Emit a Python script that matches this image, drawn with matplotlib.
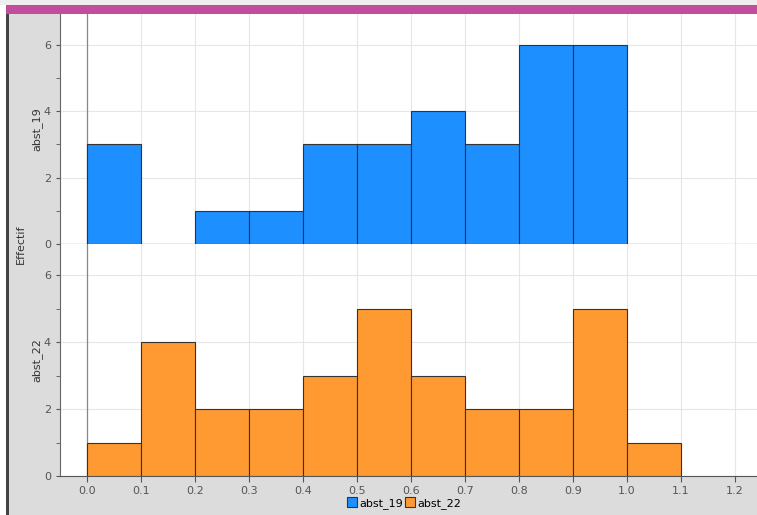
import matplotlib.pyplot as plt
from matplotlib.patches import Rectangle

# Data
bin_edges = [0.0, 0.1, 0.2, 0.3, 0.4, 0.5, 0.6, 0.7, 0.8, 0.9, 1.0, 1.1]
abst_19 = [3, 0, 1, 1, 3, 3, 4, 3, 6, 6, 0]
abst_22 = [1, 4, 2, 2, 3, 5, 3, 2, 2, 5, 1]
x_ticks = [0.0, 0.1, 0.2, 0.3, 0.4, 0.5, 0.6, 0.7, 0.8, 0.9, 1.0, 1.1, 1.2]

W, H = 757, 515
fig = plt.figure(figsize=(W / 100, H / 100), dpi=100)
fig.patch.set_facecolor("#dcdcdc")

# frame decorations (top band, left border)
fig.patches.append(Rectangle((0, 1 - 5 / H), 1, 5 / H, transform=fig.transFigure,
                             facecolor="#eeeeee", edgecolor="none"))
fig.patches.append(Rectangle((0, 1 - 14 / H), 1, 9 / H, transform=fig.transFigure,
                             facecolor="#c04e9c", edgecolor="none"))
fig.patches.append(Rectangle((0, 0), 6 / W, 1 - 5 / H, transform=fig.transFigure,
                             facecolor="white", edgecolor="none"))
fig.patches.append(Rectangle((6 / W, 0), 2.5 / W, 1 - 14 / H, transform=fig.transFigure,
                             facecolor="#444444", edgecolor="none"))

left = 60 / W
width = (W - 60) / W
ax1 = fig.add_axes([left, 1 - 244 / H, width, 230 / H])
ax2 = fig.add_axes([left, 1 - 476 / H, width, 232 / H], sharex=ax1)

series = [(ax1, abst_19, "#1e8fff", "abst_19"), (ax2, abst_22, "#ff9a33", "abst_22")]
for ax, vals, col, name in series:
    ax.bar(bin_edges[:-1], vals, width=0.1, align="edge", color=col,
           edgecolor="#333333", linewidth=0.8, zorder=3)
    ax.set_xlim(-0.05, 1.241)
    ax.set_ylim(0, 6.93)
    ax.set_yticks([0, 2, 4, 6])
    ax.set_yticks([1, 3, 5], minor=True)
    ax.grid(True, color="#e6e6e6", linewidth=0.8, zorder=0)
    ax.axvline(0, color="#888888", linewidth=0.9, zorder=2)
    ax.set_ylabel(name, fontsize=8, color="#333333", labelpad=1)
    ax.tick_params(axis="y", labelsize=8, colors="#555555", length=3)
    ax.tick_params(axis="y", which="minor", length=3, color="#555555")
    for s in ["top", "right"]:
        ax.spines[s].set_visible(False)
    ax.spines["left"].set_color("#666666")
    ax.spines["bottom"].set_color("#555555")

ax1.tick_params(axis="x", bottom=False, labelbottom=False)
ax2.set_xticks(x_ticks)
ax2.set_xticklabels([f"{t:.1f}" for t in x_ticks])
ax2.tick_params(axis="x", labelsize=8, colors="#555555", length=4, pad=3)

fig.text(21 / W, 1 - 244 / H, "Effectif", rotation=90, ha="center", va="center",
         fontsize=8, color="#333333")

# legend
handles = [Rectangle((0, 0), 1, 1, facecolor=c, edgecolor="#333333", linewidth=0.8)
           for _, _, c, _ in series]
fig.legend(handles, [s[3] for s in series], loc="center", bbox_to_anchor=(404 / W, 1 - 503 / H),
           ncol=2, frameon=False, fontsize=8, handlelength=0.9, handleheight=0.9,
           handletextpad=0.2, columnspacing=0.2, borderpad=0)

plt.savefig("out.png", dpi=100, facecolor=fig.get_facecolor())
